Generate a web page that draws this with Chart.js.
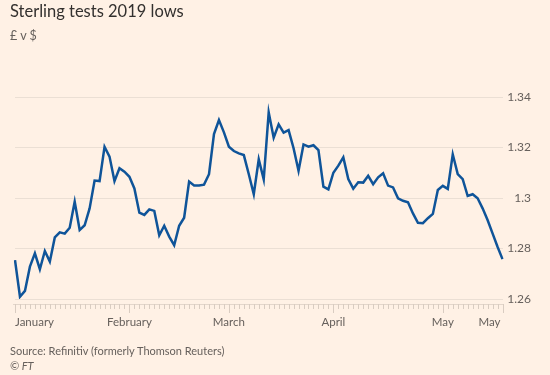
<!DOCTYPE html>
<html><head><meta charset="utf-8">
<script src="https://cdn.jsdelivr.net/npm/chart.js@4.4.1/dist/chart.umd.min.js"></script>
<style>
html,body{margin:0;padding:0;background:#fff1e5;}
#wrap{position:relative;width:550px;height:375px;overflow:hidden;background:#fff1e5;font-family:Lato,"Open Sans",sans-serif;}
#title{position:absolute;left:10px;top:1px;font-size:16.5px;color:#33302e;white-space:nowrap;}
#sub{position:absolute;left:10px;top:28px;font-size:12.5px;color:#66605c;}
#src{position:absolute;left:10px;top:344px;font-size:11px;color:#66605c;white-space:nowrap;}
#ft{position:absolute;left:10px;top:359px;font-size:11px;color:#66605c;font-style:italic;}
canvas{position:absolute;left:0;top:0;}
</style></head>
<body>
<div id="wrap">
<canvas id="c" width="550" height="375"></canvas>
<div id="title">Sterling tests 2019 lows</div>
<div id="sub">£ v $</div>
<div id="src">Source: Refinitiv (formerly Thomson Reuters)</div>
<div id="ft">© FT</div>
</div>
<script>
// Business days, 1 Jan 2019 to 17 May 2019
const startDate = "2019-01-01";
const endDate = "2019-05-17";
const categories = [];
for (let d = new Date(startDate + "T00:00:00Z"); d <= new Date(endDate + "T00:00:00Z"); d.setUTCDate(d.getUTCDate() + 1)) {
  const wd = d.getUTCDay();
  if (wd !== 0 && wd !== 6) categories.push(d.toISOString().slice(0, 10));
}

// GBP/USD
const gbpUsd = [
  1.2754, 1.2609, 1.2632, 1.2728, 1.2781, 1.2718, 1.2790, 1.2748, 1.2844, 1.2864,
  1.2859, 1.2882, 1.2985, 1.2873, 1.2892, 1.2959, 1.3069, 1.3067, 1.3203, 1.3164,
  1.3067, 1.3118, 1.3104, 1.3084, 1.3038, 1.2942, 1.2933, 1.2955, 1.2949, 1.2852,
  1.2890, 1.2847, 1.2813, 1.2890, 1.2922, 1.3065, 1.3050, 1.3050, 1.3053, 1.3094,
  1.3253, 1.3309, 1.3260, 1.3203, 1.3186, 1.3177, 1.3170, 1.3094, 1.3015, 1.3153,
  1.3074, 1.3339, 1.3239, 1.3292, 1.3259, 1.3269, 1.3197, 1.3108, 1.3212, 1.3203,
  1.3209, 1.3190, 1.3045, 1.3034, 1.3100, 1.3128, 1.3161, 1.3075, 1.3037, 1.3062,
  1.3061, 1.3088, 1.3055, 1.3082, 1.3098, 1.3049, 1.3042, 1.2999, 1.2989, 1.2983,
  1.2939, 1.2902, 1.2900, 1.2920, 1.2937, 1.3032, 1.3048, 1.3036, 1.3173, 1.3095,
  1.3075, 1.3008, 1.3015, 1.2999, 1.2959, 1.2913, 1.2860, 1.2807, 1.2758
];

// x-axis month ticks
const xTickDates = ["2019-01-01", "2019-02-01", "2019-03-01", "2019-04-01", "2019-05-01", "2019-05-17"];
const xTickLabels = ["January", "February", "March", "April", "May", "May"];

// y-axis ticks
const yTickValues = [1.26, 1.28, 1.30, 1.32, 1.34];
const yTickLabels = ["1.26", "1.28", "1.3", "1.32", "1.34"];

const xAxisDecor = {
  id: 'xAxisDecor',
  afterDraw(chart) {
    const {ctx, chartArea} = chart;
    const x = chart.scales.x;
    const axisY = chartArea.bottom + 5;
    ctx.save();
    ctx.strokeStyle = '#e3d6cb';
    ctx.lineWidth = 1;
    ctx.beginPath();
    ctx.moveTo(chartArea.left - 2, axisY + 0.5);
    ctx.lineTo(chartArea.right + 1, axisY + 0.5);
    ctx.stroke();
    ctx.strokeStyle = '#d9ccc1';
    categories.forEach((d, i) => {
      const px = Math.round(x.getPixelForValue(i)) + 0.5;
      const major = xTickDates.includes(d);
      ctx.beginPath();
      ctx.moveTo(px, axisY);
      ctx.lineTo(px, axisY + (major ? 9 : 5));
      ctx.stroke();
    });
    ctx.fillStyle = '#66605c';
    ctx.font = '11.5px Lato, "Open Sans", sans-serif';
    ctx.textBaseline = 'middle';
    xTickDates.forEach((d, k) => {
      const i = categories.indexOf(d);
      const px = x.getPixelForValue(i);
      ctx.textAlign = k === 0 ? 'left' : (k === xTickDates.length - 1 ? 'right' : 'center');
      ctx.fillText(xTickLabels[k], k === xTickDates.length - 1 ? px - 2 : px, axisY + 18);
    });
    ctx.restore();
  }
};

new Chart(document.getElementById('c'), {
  type: 'line',
  data: {
    labels: categories,
    datasets: [{
      data: gbpUsd,
      borderColor: '#0f5499',
      borderWidth: 2.5,
      pointRadius: 0,
      tension: 0,
      fill: false
    }]
  },
  options: {
    responsive: false,
    animation: false,
    layout: {padding: {left: 15, right: 19, top: 97, bottom: 0}},
    plugins: {legend: {display: false}, tooltip: {enabled: false}},
    scales: {
      x: {
        type: 'category',
        offset: false,
        grid: {display: false},
        border: {display: false},
        ticks: {display: false},
        afterFit(s) { s.height = 76; s.paddingLeft = 0; s.paddingRight = 0; }
      },
      y: {
        position: 'right',
        min: 1.26,
        max: 1.34,
        afterBuildTicks(s) { s.ticks = yTickValues.map(v => ({value: v})); },
        grid: {color: '#ebdfd4', drawTicks: false},
        border: {display: false},
        ticks: {
          color: '#66605c',
          font: {family: 'Lato, "Open Sans", sans-serif', size: 12},
          crossAlign: 'far',
          padding: 0,
          callback: (v) => {
            const k = yTickValues.findIndex(t => Math.abs(t - v) < 1e-6);
            return k >= 0 ? yTickLabels[k] : '';
          }
        },
        afterFit(s) { s.width = 28.5; }
      }
    }
  },
  plugins: [xAxisDecor]
});
</script>
</body></html>
